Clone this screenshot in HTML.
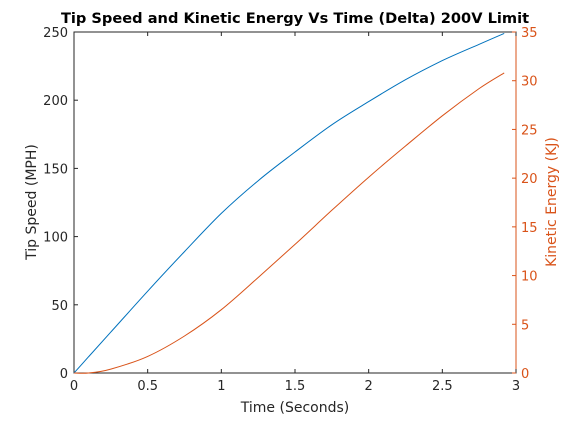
<!DOCTYPE html>
<html><head><meta charset="utf-8"><style>
body{margin:0;background:#fff}
text{font-family:"DejaVu Sans","Liberation Sans",sans-serif}
</style></head><body>
<svg id="chart" width="570" height="420" xmlns="http://www.w3.org/2000/svg">
<rect width="570" height="420" fill="#fff"/>
<text x="295" y="23" text-anchor="middle" font-size="14.6" font-weight="bold">Tip Speed and Kinetic Energy Vs Time (Delta) 200V Limit</text>
<g id="axes"></g>
<text x="295" y="412" text-anchor="middle" font-size="14" fill="#262626">Time (Seconds)</text>
<text transform="translate(36,202) rotate(-90)" text-anchor="middle" font-size="14" fill="#262626">Tip Speed (MPH)</text>
<text transform="translate(556,202) rotate(-90)" text-anchor="middle" font-size="14" fill="#d95319">Kinetic Energy (KJ)</text>
</svg>
<script>
const times=[0,0.1,0.25,0.5,0.75,1,1.25,1.5,1.75,2,2.25,2.5,2.75,2.92];
const speed=[0,12,30,60,89,117,141,162,182,199,215,229,241,249];
const energy=[0,0,0.4,1.7,3.8,6.5,9.8,13.2,16.7,20.1,23.3,26.4,29.2,30.8];
const xTicks=[0,0.5,1,1.5,2,2.5,3];
const xLabels=["0","0.5","1","1.5","2","2.5","3"];
const yLeftTicks=[0,50,100,150,200,250];
const yRightTicks=[0,5,10,15,20,25,30,35];
const L=74,R=516,T=32,B=373;
const X=v=>L+v/3*(R-L), YL=v=>B-v/250*(B-T), YR=v=>B-v/35*(B-T);
const g=document.getElementById('axes');
const NS="http://www.w3.org/2000/svg";
function mk(tag,attrs,txt){const e=document.createElementNS(NS,tag);for(const k in attrs)e.setAttribute(k,attrs[k]);if(txt!==undefined)e.textContent=txt;g.appendChild(e);return e;}
let e;
e=mk('rect',{x:L,y:T,width:R-L,height:B-T,fill:'none',stroke:'#262626','stroke-width':1});


e=mk('line',{x1:R,y1:T,x2:R,y2:B,stroke:'#d95319'});


xTicks.forEach((t,i)=>{
 mk('line',{x1:X(t),y1:B,x2:X(t),y2:B-4,stroke:'#262626'});
 mk('line',{x1:X(t),y1:T,x2:X(t),y2:T+4,stroke:'#262626'});
 e=mk('text',{x:X(t),y:B+17,'text-anchor':'middle','font-size':13,fill:'#262626'},xLabels[i]);
 
 
});
yLeftTicks.forEach(t=>{
 mk('line',{x1:L,y1:YL(t),x2:L+4,y2:YL(t),stroke:'#262626'});
 e=mk('text',{x:L-6,y:YL(t)+5,'text-anchor':'end','font-size':13,fill:'#262626'},String(t));
 
 
});
yRightTicks.forEach(t=>{
 mk('line',{x1:R,y1:YR(t),x2:R-4,y2:YR(t),stroke:'#d95319'});
 e=mk('text',{x:R+5,y:YR(t)+5,'font-size':13,fill:'#d95319'},String(t));
 
 
});
function path(ys,Y){
 const p=times.map((t,i)=>[X(t),Y(ys[i])]);
 let d='M'+p[0][0].toFixed(1)+','+p[0][1].toFixed(1);
 for(let i=0;i<p.length-1;i++){
  const p0=p[i-1]||p[i],p1=p[i],p2=p[i+1],p3=p[i+2]||p[i+1];
  const c1=[p1[0]+(p2[0]-p0[0])/6,p1[1]+(p2[1]-p0[1])/6];
  const c2=[p2[0]-(p3[0]-p1[0])/6,p2[1]-(p3[1]-p1[1])/6];
  d+='C'+c1.map(v=>v.toFixed(1)).join(',')+' '+c2.map(v=>v.toFixed(1)).join(',')+' '+p2.map(v=>v.toFixed(1)).join(',');
 }
 return d;
}
e=mk('path',{d:path(speed,YL),fill:'none',stroke:'#0072bd','stroke-width':1});


e=mk('path',{d:path(energy,YR),fill:'none',stroke:'#d95319','stroke-width':1});


</script>
</body></html>
